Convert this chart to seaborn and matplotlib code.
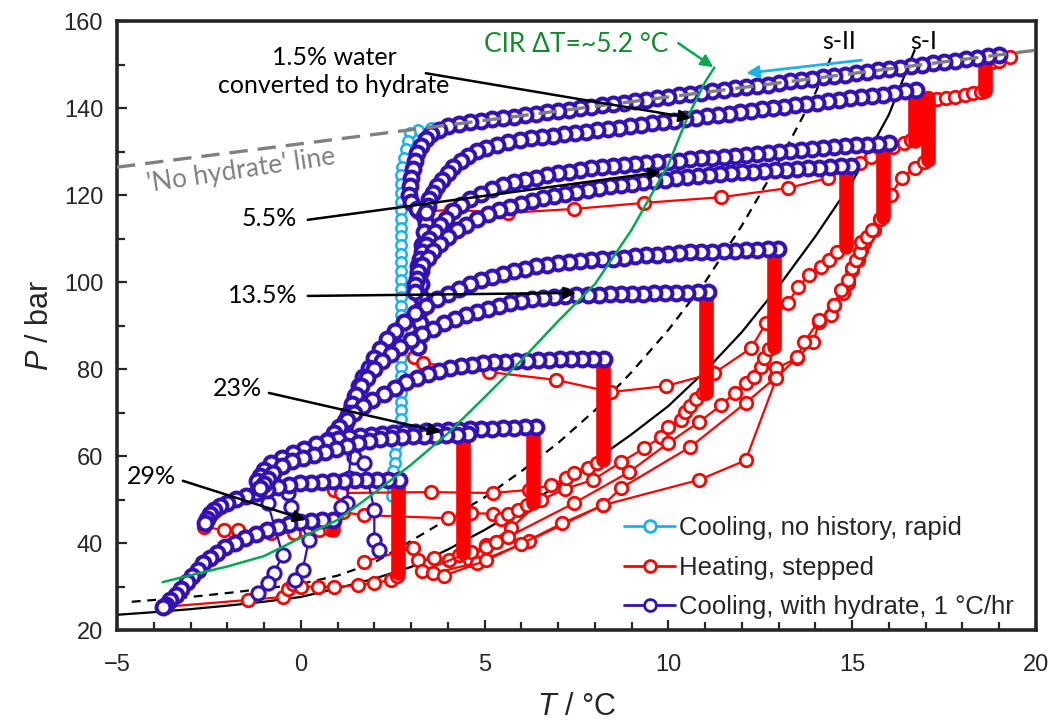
import numpy as np
import pandas as pd
import matplotlib
matplotlib.use("Agg")
import matplotlib.pyplot as plt
from matplotlib.lines import Line2D
from matplotlib.ticker import MultipleLocator
import seaborn as sns

# ---------------- data ----------------
# Cooling with hydrate, 1 C/hr (dark blue)
c1_T = [19.0,18.7,18.4,18.1,17.8,17.5,17.2,16.9,16.6,16.3,16.0,15.7,15.4,15.1,14.8,14.5,14.2,13.9,13.6,13.3,
        13.0,12.7,12.4,12.1,11.8,11.5,11.2,10.9,10.6,10.3,10.0,9.7,9.4,9.1,8.8,8.5,8.2,7.9,7.6,7.3,
        7.0,6.7,6.4,6.1,5.8,5.5,5.2,4.9,4.6,4.3,4.0,3.75,3.55,3.4,3.27,3.17,3.1,3.05,3.0,2.97,
        2.95,3.0,3.15,3.35,3.4,3.35,3.3,3.3,3.28,3.28,3.27,3.25,3.25,3.22,3.2]
c1_P = [152.2,151.9,151.6,151.3,150.9,150.6,150.3,150.0,149.6,149.3,149.0,148.7,148.3,148.0,147.7,147.4,147.1,146.7,146.4,146.1,
        145.8,145.4,145.1,144.8,144.5,144.2,143.8,143.5,143.2,142.9,142.5,142.2,141.9,141.6,141.2,140.9,140.6,140.3,140.0,139.6,
        139.3,139.0,138.7,138.3,138.0,137.7,137.4,137.1,136.7,136.4,135.8,135.0,134.0,132.8,131.3,129.6,127.8,125.9,124.0,122.0,
        120.0,118.3,116.8,115.2,113.5,111.5,108.5,105.5,102.5,99.5,96.5,93.5,90.5,87.5,85.0]
c2_T = [16.75,16.45,16.15,15.85,15.55,15.25,14.95,14.65,14.35,14.05,13.75,13.45,13.15,12.85,12.55,12.25,11.95,11.65,11.35,11.05,
        10.75,10.45,10.15,9.85,9.55,9.25,8.95,8.65,8.35,8.05,7.75,7.45,7.15,6.85,6.55,6.25,5.95,5.65,5.35,5.05,
        4.8,4.55,4.35,4.15,4.0,3.85,3.7,3.6,3.5,3.45,3.4]
c2_P = [144.1,143.8,143.5,143.1,142.8,142.5,142.2,141.9,141.5,141.2,140.9,140.6,140.3,140.0,139.7,139.3,139.0,138.7,138.4,138.1,
        137.8,137.4,137.1,136.8,136.5,136.2,135.9,135.5,135.2,134.9,134.6,134.3,134.0,133.6,133.3,133.0,132.6,132.2,131.6,130.9,
        130.1,129.0,127.8,126.5,125.0,123.5,122.0,120.5,119.0,117.5,116.0]
c3_T = [16.0,15.7,15.4,15.1,14.8,14.5,14.2,13.9,13.6,13.3,13.0,12.7,12.4,12.1,11.8,11.5,11.2,10.9,10.6,10.3,
        10.0,9.7,9.4,9.1,8.8,8.5,8.2,7.9,7.6,7.3,7.0,6.7,6.4,6.1,5.8,5.5,5.2,4.9,4.6,
        4.35,4.15,3.95,3.8,3.65,3.5,3.4,3.3,3.25,3.2,3.2]
c3_P = [132.0,131.8,131.6,131.4,131.2,131.0,130.7,130.5,130.3,130.1,129.9,129.6,129.4,129.2,129.0,128.8,128.6,128.4,128.2,127.9,
        127.7,127.5,127.3,127.1,126.9,126.6,126.4,126.1,125.8,125.4,125.0,124.5,124.0,123.5,122.9,122.2,121.3,120.3,119.1,
        117.8,116.3,114.6,113.0,111.5,110.0,108.4,106.8,105.2,103.6,102.0]
c4_T = [14.98,14.7,14.4,14.1,13.8,13.5,13.2,12.9,12.6,12.3,12.0,11.7,11.4,11.1,10.8,10.5,10.2,9.9,9.6,9.3,
        9.0,8.7,8.4,8.1,7.8,7.5,7.2,6.9,6.6,6.3,6.0,5.7,5.4,5.1,4.8,4.5,
        4.25,4.0,3.8,3.6,3.45,3.3,3.2,3.15,3.1,3.1]
c4_P = [126.7,126.6,126.4,126.3,126.1,126.0,125.8,125.7,125.5,125.4,125.2,125.0,124.8,124.6,124.3,124.1,123.8,123.5,123.2,122.9,
        122.6,122.3,122.0,121.6,121.2,120.8,120.3,119.8,119.2,118.6,118.0,117.3,116.5,115.6,114.5,113.2,
        111.9,110.4,108.8,107.2,105.6,104.0,102.4,100.8,99.2,97.6]
c5_T = [12.99,12.7,12.4,12.1,11.8,11.5,11.2,10.9,10.6,10.3,10.0,9.7,9.4,9.1,8.8,8.5,8.2,7.9,7.6,7.3,
        7.0,6.7,6.4,6.1,5.8,5.5,5.2,4.9,4.6,4.3,4.0,3.7,3.4,3.1,2.8,
        2.55,2.35,2.15,2.0,1.85,1.7,1.58,1.48,1.38,1.28,1.2,1.12]
c5_P = [107.6,107.5,107.4,107.3,107.2,107.1,107.0,106.9,106.8,106.7,106.5,106.3,106.1,105.9,105.6,105.4,105.2,105.0,104.8,104.6,
        104.3,104.0,103.6,103.1,102.6,101.9,101.2,100.4,99.5,98.5,97.3,96.0,94.5,92.8,90.8,
        88.8,86.8,84.7,82.5,80.3,78.2,76.0,73.8,71.6,69.4,67.2,65.0]
c6_T = [11.08,10.8,10.5,10.2,9.9,9.6,9.3,9.0,8.7,8.4,8.1,7.8,7.5,7.2,6.9,6.6,6.3,6.0,5.7,5.4,
        5.1,4.8,4.5,4.2,3.9,3.6,3.3,3.0,2.7,2.45,2.2,2.0,1.8,1.65,1.5,1.4,1.3,1.2,1.1]
c6_P = [97.6,97.6,97.5,97.5,97.4,97.4,97.3,97.3,97.2,97.2,97.1,97.0,96.9,96.8,96.6,96.3,96.0,95.6,95.1,94.5,
        93.9,93.2,92.5,91.6,90.5,89.3,88.0,86.6,85.0,83.5,81.8,80.0,78.0,76.0,74.0,72.0,70.0,68.0,66.0]
c7_T = [8.25,7.95,7.65,7.35,7.05,6.75,6.45,6.15,5.85,5.55,5.25,4.95,4.65,4.35,4.05,3.75,3.45,3.15,2.85,2.55,
        2.25,1.95,1.7,1.45,1.25,1.05,0.9,0.75,0.6]
c7_P = [82.3,82.3,82.3,82.2,82.2,82.1,82.0,81.9,81.8,81.7,81.5,81.3,81.0,80.7,80.2,79.6,78.9,78.0,76.9,75.6,
        74.2,72.8,71.4,69.9,68.3,66.7,65.2,63.6,62.0]
c8_T = [6.4,6.1,5.8,5.5,5.2,4.9,4.6,4.3,4.0,3.7,3.4,3.1,2.8,2.5,2.2,1.9,1.6,1.3,1.0,0.7,
        0.4,0.1,-0.2,-0.5,-0.8,-1.0,-1.1,-1.2]
c8_P = [66.7,66.6,66.5,66.4,66.3,66.2,66.1,66.0,65.9,65.8,65.7,65.6,65.5,65.3,65.1,64.9,64.6,64.3,63.9,63.4,
        62.8,61.6,60.6,59.5,58.3,56.8,55.5,54.3]
c9_T = [4.55,4.25,3.95,3.65,3.35,3.05,2.75,2.45,2.15,1.85,1.55,1.25,0.95,0.65,0.35,0.05,-0.25,-0.5,-0.75,-0.9,-1.0,-1.1]
c9_P = [65.0,64.9,64.8,64.7,64.6,64.5,64.3,64.1,63.8,63.4,62.9,62.3,61.5,60.9,60.2,59.6,58.8,57.6,56.0,54.8,53.6,52.6]
c10_T = [2.67,2.37,2.07,1.77,1.47,1.17,0.87,0.57,0.27,-0.03,-0.33,-0.63,-0.93,-1.23,-1.5,-1.75,-2.0,-2.2,-2.35,-2.47,-2.55,-2.6]
c10_P = [54.5,54.5,54.5,54.4,54.4,54.3,54.2,54.1,53.9,53.7,53.3,52.8,52.2,51.5,50.8,50.1,49.3,48.5,47.6,46.6,45.6,44.7]
c11_T = [0.87,0.57,0.27,-0.03,-0.33,-0.63,-0.93,-1.23,-1.53,-1.8,-2.05,-2.28,-2.48,-2.65,-2.8,-2.95,-3.1,-3.25,-3.4,-3.55,-3.68,-3.76]
c11_P = [45.3,45.2,45.0,44.8,44.3,43.7,43.0,42.1,41.1,40.1,39.0,37.8,36.6,35.3,33.9,32.5,31.0,29.5,28.1,26.8,25.7,25.2]
# sparse tails of the cooling runs
t1_T = [1.12,1.36,1.45,1.72,2.0,2.0,2.13]
t1_P = [65.0,62.0,59.8,58.4,47.6,40.7,38.4]
t2_T = [1.1,1.4,1.3,1.27,1.09]
t2_P = [66.0,63.5,55.0,49.2,48.3]
t4_T = [-1.2,-0.9,-0.49,-0.74,-0.9,-1.17]
t4_P = [54.3,49.2,37.2,33.0,30.8,28.5]
t5_T = [-1.1,-0.36,-0.27,0.22,0.05,-0.15]
t5_P = [52.6,51.5,48.3,40.7,33.8,31.5]

# Cooling, no history, rapid (light blue)
lb_T = [20.4,19.0,17.5,16.0,14.5,13.0,11.5,10.0,8.5,7.0,5.8,4.9,4.4,4.0,3.54,3.2,2.98,2.92,2.85,2.8,2.75,
        2.72,2.72,2.72,2.72,2.72,2.72,2.72,2.72,2.72,2.72,2.72,2.72,2.72,2.72,2.72,2.72,2.72,2.72,2.72,2.72,
        2.72,2.72,2.72,2.72,2.72,2.72,2.72,2.72,2.72,2.72,
        2.65,2.6,2.55,2.55,2.5,2.5,2.5,2.48]
lb_P = [153.7,152.2,150.6,149.0,147.4,145.8,144.2,142.5,140.9,139.3,138.0,137.1,136.5,136.0,135.4,134.9,134.2,132.5,130.5,128.5,126.5,
        124.5,122.5,120.5,118.5,116.5,114.5,112.5,110.5,108.5,106.5,104.5,102.5,100.5,98.5,96.5,94.5,92.5,90.5,88.5,86.5,
        84.5,82.5,80.5,78.5,76.5,74.5,72.5,70.5,68.5,66.5,
        64.5,62.5,60.5,58.5,56.5,54.5,52.5,50.8]

# Heating, stepped (red) - connecting runs
rA_T = [-3.76,-1.44,-0.49,-0.35,-0.2,0.0,0.46,0.9,1.55,2.0,2.45,2.62]
rA_P = [25.3,26.9,27.6,29.5,30.5,30.0,29.9,29.9,30.3,30.8,31.5,32.5]
rG_T = [-2.64,-2.1,-1.7,-0.8,-0.18,0.14,0.5,0.8]
rG_P = [43.7,43.0,43.0,42.3,42.3,42.5,43.0,43.2]
rB_T = [3.08,3.32,5.12,6.94,8.44,9.94,11.25,12.25,12.66,13.26,13.53,13.83,14.15,14.38,14.6]
rB_P = [82.8,81.4,79.3,77.5,74.7,76.1,79.1,84.8,90.6,95.2,98.9,101.6,103.4,105.0,107.0]
rC_T = [3.0,3.2,4.09,5.64,7.44,9.35,11.44,13.26,14.35,15.2,15.5,16.1,16.4,16.6]
rC_P = [118.2,116.1,116.6,115.9,116.8,118.2,119.5,121.6,123.9,127.4,128.7,131.0,132.0,132.6]
rE_T = [1.72,3.05,3.2,3.63,4.04,4.3]
rE_P = [35.7,38.9,36.1,36.6,36.1,37.2]
rH_T = [1.14,1.72,4.0,4.63,5.23,5.45,5.64,5.9,6.15]
rH_P = [47.1,46.4,45.7,46.9,46.7,45.5,46.7,47.6,48.8]
rF_T = [0.9,1.09,3.54,5.23,6.2,6.8,7.22,7.44,7.8,8.05]
rF_P = [52.2,51.5,51.7,51.5,52.2,53.3,54.9,56.1,57.3,58.5]
rD_T = [4.6,5.04,5.72,6.54,7.2,7.95,8.71,9.35,9.8,10.0,10.35,10.44,10.6,10.75,10.95]
rD_P = [36.0,39.5,43.4,49.9,52.5,54.5,58.6,61.8,64.4,66.7,68.3,70.1,71.5,73.0,74.5]
rL_T = [3.3,4.63,5.04,5.31,5.64,7.44,8.93,10.0,10.83,11.44,11.8,12.1,12.34,12.53,12.6,12.75]
rL_P = [33.5,38.0,39.1,40.2,41.4,49.2,56.3,63.0,67.8,71.7,74.5,76.8,78.2,80.5,82.5,84.5]
rN_T = [3.6,4.8,6.2,8.22,8.71,10.6,12.1,12.9,12.94,13.5,13.94,14.1,14.43,14.5,14.74,14.9,15.0,15.17,15.25,15.33,15.6,15.75]
rN_P = [33.0,35.5,40.5,48.7,52.6,62.1,72.2,77.9,80.2,82.5,86.2,90.8,92.4,94.7,97.5,99.8,102.8,105.0,107.4,109.0,112.0,114.5]
rQ_T = [3.9,5.04,6.0,7.1,8.22,10.83,12.1,12.94,13.5,13.7,14.1,14.5,14.7,14.9,15.0,15.1,15.2,15.25,15.4,15.55,15.75,16.05,16.35,16.7,16.95]
rQ_P = [32.5,36.0,39.8,44.5,48.7,54.5,59.0,77.9,82.7,86.2,91.2,94.7,98.2,100.5,103.2,105.0,106.9,109.2,110.3,112.0,114.5,120.0,124.0,126.2,127.5]
rZ_T = [17.07,17.3,17.55,17.8,18.06,18.3,18.5]
rZ_P = [142.4,142.0,142.3,142.6,143.0,143.4,143.7]
rY_T = [18.6,18.8,19.0,19.3]
rY_P = [150.2,150.5,150.9,151.7]
# isothermal heating steps (temperature, lowest and highest pressure)
stk_T = [0.87,2.65,4.41,6.32,8.22,11.03,12.88,14.84,15.85,16.72,17.07,18.6]
stk_lo = [43.0,33.0,37.7,49.2,59.0,74.5,85.0,108.0,115.0,132.5,128.0,143.8]
stk_hi = [45.0,53.5,64.6,66.3,81.8,97.2,107.2,126.0,131.6,143.6,142.4,150.2]

# equilibrium curves
sI_T = [-5,-4,-3,-2,-1,0,1,2,3,4,5,6,7,8,9,10,11,12,13,14,15,16,16.7]
sI_P = [23.5,24.1,24.8,25.6,26.5,27.6,29.6,31.8,34.5,38.5,43.0,48.0,53.3,59.0,65.0,71.5,79.5,88.5,99.0,110.5,123.0,138.5,153.3]
sII_T = [-4.6,-4,-3,-2,-1,0,1,2,3,4,5,6,7,8,9,10,11,12,13,14,14.43]
sII_P = [26.5,26.9,27.6,28.5,29.5,30.6,32.5,35.5,40.5,45.5,50.5,56.5,63.0,70.5,79.3,89.0,100.0,113.0,127.5,143.5,151.7]
cir_T = [-3.76,-3,-2,-1,0,1,2,3,4,5,6,7,8,9,10,10.5,11,11.25]
cir_P = [31.0,32.6,34.6,37.0,41.2,45.3,51.5,58.0,65.2,73.5,82.0,91.0,99.5,112.0,127.0,137.5,146.0,149.3]
nh_T = [-5, 20]
nh_P = [126.4, 153.3]

legend_labels = ["Cooling, no history, rapid", "Heating, stepped", "Cooling, with hydrate, 1 °C/hr"]

# ---------------- styling ----------------
sns.set_style("ticks")
plt.rcParams['font.family'] = ['Liberation Sans', 'DejaVu Sans']
plt.rcParams['mathtext.fontset'] = 'custom'
plt.rcParams['mathtext.it'] = 'Liberation Sans:italic'
plt.rcParams['mathtext.rm'] = 'Liberation Sans'

BLUE = '#3311B5'
LBLUE = '#1DB1EC'
RED = '#FF0000'
GREEN = '#00A850'
GREEN_T = '#138A2E'
GRAY = '#808080'

def long_df(curves):
    rows = []
    for name, ts, ps in curves:
        for t, p in zip(ts, ps, strict=True):
            rows.append((name, t, p))
    return pd.DataFrame(rows, columns=['curve', 'T', 'P'])

blue_df = long_df([('c1', c1_T, c1_P), ('c2', c2_T, c2_P), ('c3', c3_T, c3_P), ('c4', c4_T, c4_P),
                   ('c5', c5_T, c5_P), ('c6', c6_T, c6_P), ('c7', c7_T, c7_P), ('c8', c8_T, c8_P),
                   ('c9', c9_T, c9_P), ('c10', c10_T, c10_P), ('c11', c11_T, c11_P)])
tail_df = long_df([('t1', t1_T, t1_P), ('t2', t2_T, t2_P), ('t4', t4_T, t4_P), ('t5', t5_T, t5_P)])
red_df = long_df([('A', rA_T, rA_P), ('G', rG_T, rG_P), ('B', rB_T, rB_P), ('C', rC_T, rC_P),
                  ('E', rE_T, rE_P), ('H', rH_T, rH_P), ('F', rF_T, rF_P), ('D', rD_T, rD_P),
                  ('L', rL_T, rL_P), ('N', rN_T, rN_P), ('Q', rQ_T, rQ_P), ('Z', rZ_T, rZ_P), ('Y', rY_T, rY_P)])
stk_df = long_df([(f's{i}', [t, t], [lo, hi]) for i, (t, lo, hi) in enumerate(zip(stk_T, stk_lo, stk_hi))])
lb_df = pd.DataFrame({'T': lb_T, 'P': lb_P})
ref_df = long_df([('sI', sI_T, sI_P), ('sII', sII_T, sII_P), ('cir', cir_T, cir_P), ('nh', nh_T, nh_P)])

fig = plt.figure(figsize=(10.61, 7.22), dpi=100)
ax = fig.add_axes([0.1103, 0.1274, 0.8661, 0.8435])

# reference lines
sns.lineplot(data=ref_df[ref_df.curve == 'sI'], x='T', y='P', sort=False, estimator=None,
             color='black', lw=1.6, ax=ax, zorder=1)
sns.lineplot(data=ref_df[ref_df.curve == 'sII'], x='T', y='P', sort=False, estimator=None,
             color='black', lw=1.6, ax=ax, zorder=1, linestyle=(0, (4, 3)))

# light blue cooling
sns.lineplot(data=lb_df, x='T', y='P', sort=False, estimator=None, color=LBLUE, lw=1.6,
             marker='o', markersize=7.5, markerfacecolor='white', markeredgecolor=LBLUE,
             markeredgewidth=1.8, ax=ax, zorder=2)

# red heating
sns.lineplot(data=red_df, x='T', y='P', units='curve', sort=False, estimator=None, color=RED, lw=1.6,
             marker='o', markersize=9, markerfacecolor='white', markeredgecolor=RED,
             markeredgewidth=2.0, ax=ax, zorder=3)
sns.lineplot(data=stk_df, x='T', y='P', units='curve', sort=False, estimator=None, color=RED, lw=10.5,
             solid_capstyle='round', ax=ax, zorder=3)

# dark blue cooling: sparse tails (thin) and dense runs
sns.lineplot(data=tail_df, x='T', y='P', units='curve', sort=False, estimator=None, color=BLUE, lw=1.6,
             marker='o', markersize=9.5, markerfacecolor='white', markeredgecolor=BLUE,
             markeredgewidth=2.2, ax=ax, zorder=4)
sns.lineplot(data=blue_df, x='T', y='P', units='curve', sort=False, estimator=None, color=BLUE, lw=4.0,
             marker='o', markersize=10, markerfacecolor='white', markeredgecolor=BLUE,
             markeredgewidth=2.9, ax=ax, zorder=4)

# CIR curve and no-hydrate line on top
sns.lineplot(data=ref_df[ref_df.curve == 'cir'], x='T', y='P', sort=False, estimator=None,
             color=GREEN, lw=1.8, ax=ax, zorder=5)
sns.lineplot(data=ref_df[ref_df.curve == 'nh'], x='T', y='P', sort=False, estimator=None,
             color=GRAY, lw=2.4, ax=ax, zorder=5, linestyle=(0, (5.5, 3)))

# axes
ax.set_xlim(-5, 20)
ax.set_ylim(20, 160)
ax.set_xticks(range(-5, 21, 5))
ax.set_yticks(range(20, 161, 20))
ax.xaxis.set_minor_locator(MultipleLocator(1))
ax.yaxis.set_minor_locator(MultipleLocator(10))
ax.tick_params(which='both', direction='in', width=1.6, labelsize=17, top=False, right=False)
ax.tick_params(which='major', length=7)
ax.tick_params(which='minor', length=6)
ax.tick_params(axis='x', which='major', pad=17)
ax.tick_params(axis='y', which='major', pad=10)
for s in ax.spines.values():
    s.set_visible(True)
    s.set_linewidth(2.6)
ax.set_xlabel('$T$ / °C', fontsize=22, labelpad=12)
ax.set_ylabel('$P$ / bar', fontsize=22, labelpad=6)

# annotations
afont = dict(family=['Lato', 'DejaVu Sans'], fontsize=18, color='black')
arrow = dict(arrowstyle='-|>', color='black', lw=1.8, mutation_scale=18, shrinkA=0, shrinkB=0)
ax.text(0.9, 148.4, '1.5% water\nconverted to hydrate', ha='center', va='center', linespacing=1.3, zorder=6, **afont)
ax.annotate('', xy=(10.62, 137.7), xytext=(3.4, 148.0), arrowprops=arrow, zorder=6)
ax.text(-0.1, 114.7, '5.5%', ha='right', va='center', zorder=6, **afont)
ax.annotate('', xy=(9.8, 125.3), xytext=(0.19, 114.3), arrowprops=arrow, zorder=6)
ax.text(-0.1, 97.0, '13.5%', ha='right', va='center', zorder=6, **afont)
ax.annotate('', xy=(7.49, 97.5), xytext=(0.19, 96.8), arrowprops=arrow, zorder=6)
ax.text(-1.05, 75.6, '23%', ha='right', va='center', zorder=6, **afont)
ax.annotate('', xy=(3.81, 65.5), xytext=(-0.87, 74.5), arrowprops=arrow, zorder=6)
ax.text(-3.4, 55.2, '29%', ha='right', va='center', zorder=6, **afont)
ax.annotate('', xy=(0.14, 45.3), xytext=(-3.21, 54.3), arrowprops=arrow, zorder=6)
ax.text(4.98, 154.5, 'CIR ΔT=~5.2 °C', ha='left', va='center', zorder=6,
        family=['Lato', 'DejaVu Sans'], fontsize=19, color=GREEN_T)
ax.annotate('', xy=(11.22, 149.4), xytext=(10.27, 154.9),
            arrowprops=dict(arrowstyle='-|>', color=GREEN, lw=1.8, mutation_scale=18, shrinkA=0, shrinkB=0), zorder=6)
ax.text(14.65, 155.2, 's-II', ha='center', va='center', zorder=6, **afont)
ax.text(16.94, 155.2, 's-I', ha='center', va='center', zorder=6, **afont)
ax.text(-1.63, 125.6, "'No hydrate' line", ha='center', va='center', rotation=8.5, zorder=6,
        family=['Lato', 'DejaVu Sans'], fontsize=19, color=GRAY)
ax.annotate('', xy=(12.12, 148.0), xytext=(15.25, 151.0),
            arrowprops=dict(arrowstyle='-|>', color=LBLUE, lw=2.0, mutation_scale=18, shrinkA=0, shrinkB=0), zorder=6)

# legend
handles = [Line2D([], [], color=c, lw=2, marker='o', markersize=8.5, markerfacecolor='white',
                  markeredgecolor=c, markeredgewidth=2) for c in (LBLUE, RED, BLUE)]
ax.legend(handles, legend_labels, loc='lower left', bbox_to_anchor=(0.535, -0.008), frameon=False,
          fontsize=18.5, handlelength=2.0, handletextpad=0.15, labelspacing=0.62, borderaxespad=0.2)

fig.savefig('out.png', dpi=100)
